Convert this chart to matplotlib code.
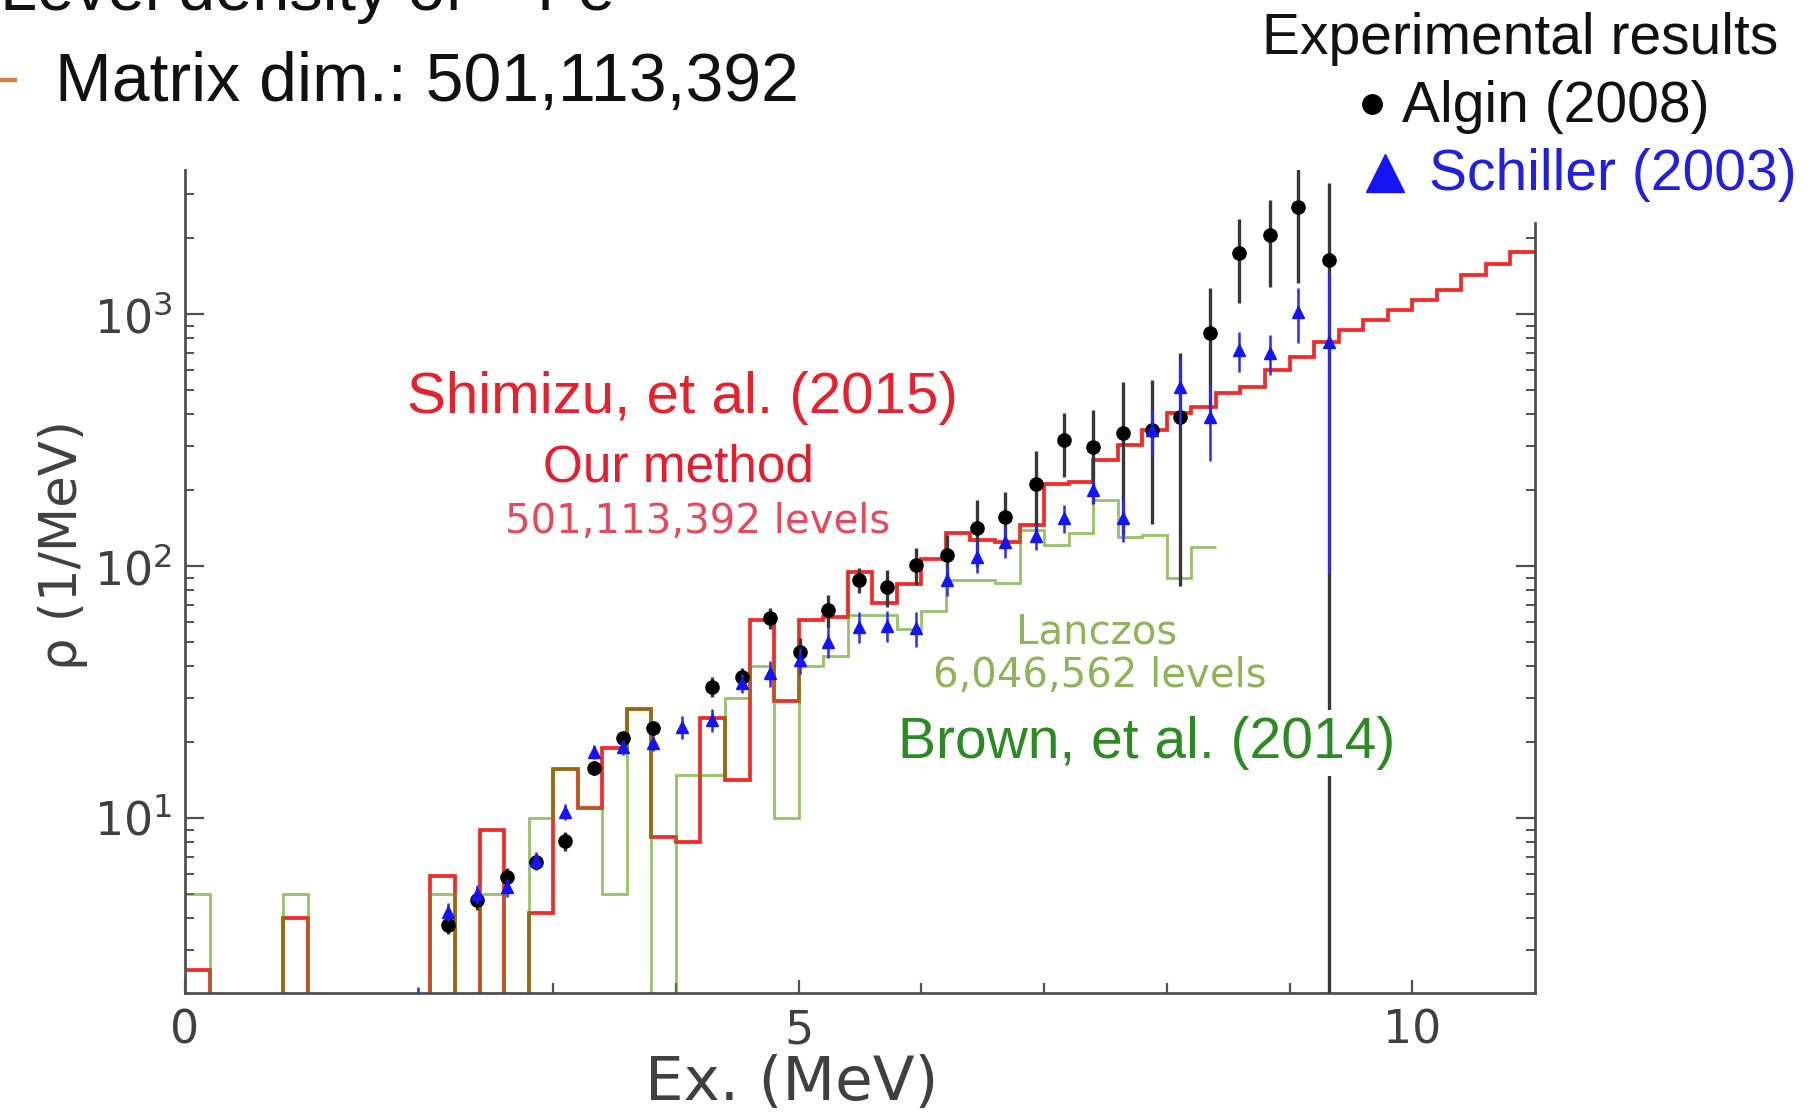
import numpy as np
import matplotlib
matplotlib.use("Agg")
import matplotlib.pyplot as plt
from matplotlib.lines import Line2D
from matplotlib.ticker import FixedLocator, FuncFormatter, NullFormatter

plt.rcParams['font.family'] = ['Liberation Sans', 'DejaVu Sans']
plt.rcParams['mathtext.fontset'] = 'custom'
plt.rcParams['mathtext.rm'] = 'DejaVu Sans'
plt.rcParams['mathtext.it'] = 'DejaVu Sans:italic'
plt.rcParams['mathtext.bf'] = 'DejaVu Sans:bold'

W, H, DPI = 1810, 1113, 100

# ---------------- data ----------------
# Shell-model level density, 0.2 MeV bins (Shimizu et al. 2015, stochastic estimation)
shimizu_edges = np.round(np.arange(0.0, 11.0 + 1e-9, 0.2), 1)
shimizu_density = [
    2.5, 0, 0, 0, 4.0, 0, 0, 0, 0, 0,
    5.9, 0, 9.0, 0, 4.2, 15.6, 11.0, 19, 27, 8.4,
    8.0, 25, 14.2, 61, 29, 61, 63, 95, 71, 85,
    107, 135, 127, 124, 145, 212, 215, 263, 303, 346,
    404, 427, 485, 513, 600, 676, 777, 865, 947, 1037,
    1137, 1245, 1428, 1585, 1770,
]

# Lanczos diagonalisation (Brown et al. 2014)
lanczos_edges = np.round(np.arange(0.0, 8.4 + 1e-9, 0.2), 1)
lanczos_density = [
    5, 0, 0, 0, 5, 0, 0, 0, 0, 0,
    5, 0, 5, 0, 10, 15.6, 11.0, 5, 27, 0,
    14.8, 14.8, 30, 40, 10, 40, 44, 64, 64, 56,
    66, 88, 88, 86, 139, 121, 135, 183, 130, 133,
    90, 119,
]

# Experimental level densities
algin_ex = [2.14, 2.38, 2.62, 2.86, 3.10, 3.33, 3.57, 3.81, 4.05, 4.29,
            4.54, 4.77, 5.01, 5.24, 5.49, 5.72, 5.96, 6.21, 6.45, 6.68,
            6.93, 7.16, 7.40, 7.64, 7.88, 8.11, 8.35, 8.59, 8.84, 9.07, 9.32]
algin_rho = [3.76, 4.73, 5.84, 6.7, 8.1, 15.8, 20.7, 22.7, np.nan, 33.2,
             36.4, 62, 45.7, 66.8, 88, 82.8, 101, 111, 141, 157,
             211, 316, 297, 336, 347, 391, 838, 1742, 2056, 2650, 1637]
algin_err = [0.3, 0.4, 0.5, 0.5, 0.7, 1.0, 1.3, 1.5, np.nan, 3,
             3, 6, 6, 10, 10, 14, 17, 22, 42, 40,
             75, 90, 120, 203, 200, 308, 425, 640, 780, 1320, 1670]

schiller_ex = [1.90, 2.14, 2.38, 2.62, 2.86, 3.10, 3.33, 3.57, 3.81, 4.05,
               4.29, 4.54, 4.77, 5.01, 5.24, 5.49, 5.72, 5.96, 6.21, 6.45,
               6.68, 6.93, 7.16, 7.40, 7.64, 7.88, 8.11, 8.35, 8.59, 8.84,
               9.07, 9.32]
schiller_rho = [1.6, 4.24, 5.0, 5.3, 6.8, 10.6, 18.3, 19.1, 19.8, 23,
                24.5, 34.2, 37.5, 42.4, 50, 57.4, 58, 56.6, 88, 109,
                125, 131, 155, 200, 155, 347, 515, 391, 720, 698,
                1021, 777]
schiller_err = [0.53, 0.35, 0.4, 0.45, 0.5, 0.8, 1.2, 1.3, 1.4, 2.5,
                2.5, 3, 4.5, 5, 7, 8, 8, 9, 12, 15,
                17, 15, 20, 20, 30, 70, 150, 130, 130, 125,
                250, 683]

x_major = [0, 5, 10]
x_minor = [1, 2, 3, 4, 6, 7, 8, 9]
y_major = [10, 100, 1000]

RED = '#f42828'
GREEN_LINE = '#4f9a00'
BLUE = '#1414f5'
AXIS = '#505050'
LABEL = '#404040'


def fx(px):
    return px / W


def fy(py):
    return 1 - py / H


fig = plt.figure(figsize=(W / DPI, H / DPI), dpi=DPI)
fig.patch.set_facecolor('white')

ax = fig.add_axes([fx(185), fy(993), fx(1535) - fx(185), fy(170) - fy(993)])
ax.set_yscale('log')
ax.set_xlim(0, 11)
ax.set_ylim(2.02, 3730)

ax.stairs(shimizu_density, shimizu_edges, baseline=None, color=RED,
          lw=2.7, zorder=2)
ax.stairs(lanczos_density, lanczos_edges, baseline=None, color=GREEN_LINE,
          lw=2.0, alpha=0.6, zorder=2.5)

ax.errorbar(algin_ex, algin_rho, yerr=algin_err, fmt='o', ms=9.5,
            mfc='black', mec='black', ecolor='#383838', elinewidth=2.4,
            capsize=0, zorder=3)
ax.errorbar(schiller_ex, schiller_rho, yerr=schiller_err, fmt='^', ms=9,
            mfc=BLUE, mec=BLUE, ecolor='#2a2aff', elinewidth=1.8,
            capsize=0, zorder=4)

# axes frame: left, bottom and a shorter right spine, no top
for side in ('top', 'right'):
    ax.spines[side].set_visible(False)
for side in ('left', 'bottom'):
    ax.spines[side].set_color(AXIS)
    ax.spines[side].set_linewidth(2.0)

ax.xaxis.set_major_locator(FixedLocator(x_major))
ax.xaxis.set_minor_locator(FixedLocator(x_minor))
ax.xaxis.set_major_formatter(FuncFormatter(lambda v, p: f"{v:g}"))
ax.yaxis.set_major_locator(FixedLocator(y_major))
minor_y = [m * 10 ** e for e in range(0, 4) for m in range(2, 10)
           if 2.02 <= m * 10 ** e <= 3730]
ax.yaxis.set_minor_locator(FixedLocator(minor_y))
ax.yaxis.set_major_formatter(
    FuncFormatter(lambda v, p: r"$\mathregular{10^{%d}}$" % round(np.log10(v))))
ax.yaxis.set_minor_formatter(NullFormatter())

ax.tick_params(axis='x', which='major', direction='in', length=9.5, width=1.6,
               color=AXIS, labelsize=33, labelcolor=LABEL, pad=11,
               labelfontfamily='DejaVu Sans')
ax.tick_params(axis='x', which='minor', direction='in', length=7, width=1.6,
               color=AXIS)
ax.tick_params(axis='y', which='major', direction='in', length=13.5, width=1.6,
               color=AXIS, labelsize=33, labelcolor=LABEL, pad=9,
               labelfontfamily='DejaVu Sans')
ax.tick_params(axis='y', which='minor', direction='in', length=6.5, width=1.4,
               color=AXIS)

# right-hand frame line with its own inward ticks
rax = ax.twinx()
rax.set_yscale('log')
rax.set_ylim(ax.get_ylim())
for side in ('top', 'left', 'bottom'):
    rax.spines[side].set_visible(False)
rax.spines['right'].set_color(AXIS)
rax.spines['right'].set_linewidth(2.0)
rax.spines['right'].set_bounds(2.02, 2300)
rax.yaxis.set_major_locator(FixedLocator(y_major))
rax.yaxis.set_minor_locator(FixedLocator([v for v in minor_y if v <= 2000]))
rax.yaxis.set_major_formatter(NullFormatter())
rax.yaxis.set_minor_formatter(NullFormatter())
rax.tick_params(axis='y', which='major', direction='in', length=13.5,
                width=1.6, color=AXIS)
rax.tick_params(axis='y', which='minor', direction='in', length=6.5,
                width=1.4, color=AXIS)

# axis titles
fig.text(fx(63), fy(545), "ρ (1/MeV)", rotation=90, ha='center', va='center',
         fontsize=37, color=LABEL, family=['DejaVu Sans'])
fig.text(fx(792), fy(1100), "Ex. (MeV)", ha='center', va='baseline',
         fontsize=44, color=LABEL, family=['DejaVu Sans'])

# slide header lines
fig.text(fx(0), fy(10), "Level density of ⁵⁶Fe", ha='left', va='baseline',
         fontsize=48, color='#111111')
fig.add_artist(Line2D([0, fx(15)], [fy(80), fy(80)], color='#e07b39', lw=3))
fig.text(fx(55), fy(101), "Matrix dim.: 501,113,392", ha='left',
         va='baseline', fontsize=49, color='#111111')

# experimental key
fig.text(fx(1520), fy(54), "Experimental results", ha='center',
         va='baseline', fontsize=41, color='#111111')
fig.add_artist(Line2D([fx(1372)], [fy(104)], marker='o', ms=14,
                      color='black', ls='none'))
fig.text(fx(1402), fy(122), "Algin (2008)", ha='left', va='baseline',
         fontsize=41, color='#111111')
fig.add_artist(Line2D([fx(1385)], [fy(173)], marker='^', ms=28,
                      color=BLUE, ls='none'))
fig.text(fx(1429), fy(190), "Schiller (2003)", ha='left', va='baseline',
         fontsize=41, color='#2020dd')

# calculation labels
fig.text(fx(682), fy(413), "Shimizu, et al. (2015)", ha='center',
         va='baseline', fontsize=42, color='#e8202c')
fig.text(fx(678), fy(482), "Our method", ha='center', va='baseline',
         fontsize=37, color='#e41e2e')
fig.text(fx(698), fy(533), "501,113,392 levels", ha='center', va='baseline',
         fontsize=29, color='#e8485c', family=['DejaVu Sans'])
fig.text(fx(1097), fy(643), "Lanczos", ha='center', va='baseline',
         fontsize=29, color='#8db456', family=['DejaVu Sans'])
fig.text(fx(1100), fy(687), "6,046,562 levels", ha='center', va='baseline',
         fontsize=29, color='#8db456', family=['DejaVu Sans'])
fig.text(fx(1147), fy(758), "Brown, et al. (2014)", ha='center',
         va='baseline', fontsize=41, color='#2b8a22',
         bbox=dict(facecolor='white', edgecolor='none', pad=4))

fig.savefig("out.png", dpi=DPI, facecolor='white')
